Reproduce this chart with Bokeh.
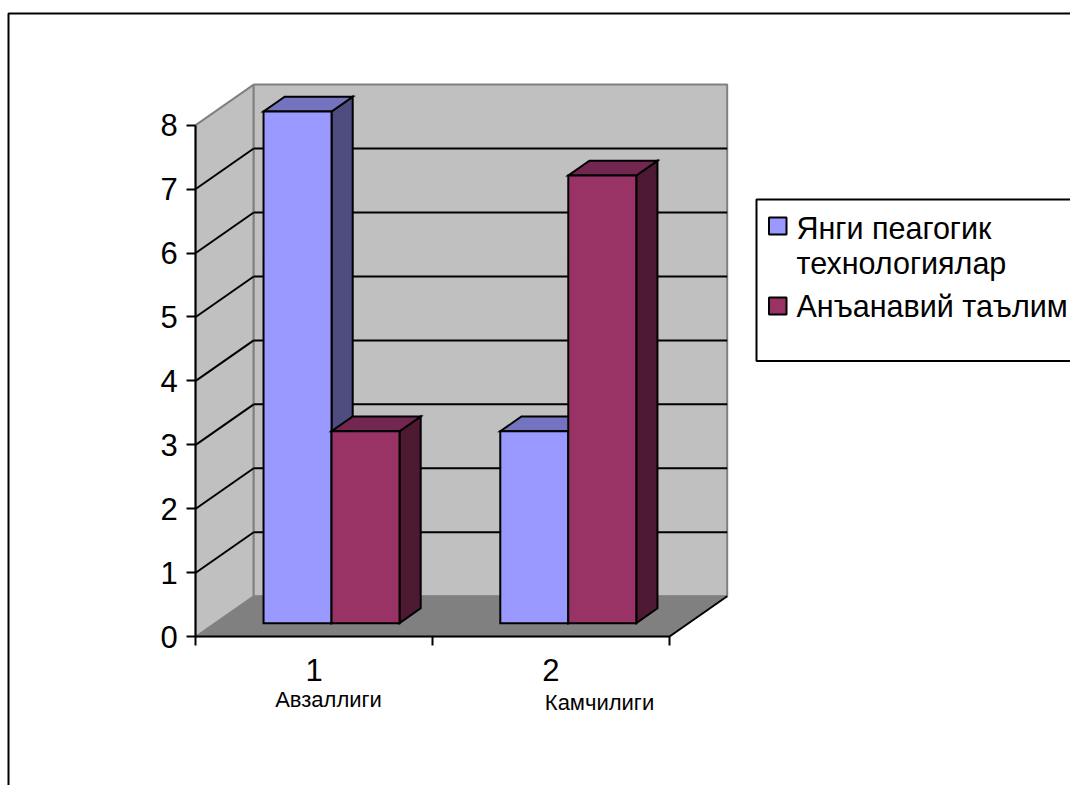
from bokeh.plotting import figure
from bokeh.models import LinearAxis, FixedTicker, Range1d
from bokeh.core.properties import value
from bokeh.embed import file_html
from bokeh.resources import INLINE

# ---- data ----
categories = [1, 2]
category_notes = ["Авзаллиги", "Камчилиги"]
series_names = ["Янги пеагогик\nтехнологиялар", "Анъанавий таълим"]
new_tech = [8, 3]
traditional = [3, 7]
y_ticks = [0, 1, 2, 3, 4, 5, 6, 7, 8]

# ---- page geometry (px in the page) ----
W, H = 1070, 785
X_ORIGIN, X_UNIT = 195.2, 236.75
Y_ORIGIN, Y_UNIT = 636.2, 63.95
fx = lambda px: (px - X_ORIGIN) / X_UNIT
fy = lambda py: (Y_ORIGIN - py) / Y_UNIT

# ---- pseudo 3D projection ----
DX, DY = 58 / X_UNIT, 40.5 / Y_UNIT
GAP, BAR = 48.4 / X_UNIT, 68 / X_UNIT
Z0, Z1 = 0.335, 0.70
YMAX = max(y_ticks)
NCAT = len(categories)

FONT = "Liberation Sans"
p = figure(width=W, height=H, output_backend="svg", toolbar_location=None,
           x_range=Range1d(fx(0), fx(W)),
           y_range=Range1d(fy(H), fy(0)),
           x_axis_type=None, y_axis_type=None, min_border=0)
p.outline_line_color = None
p.xgrid.visible = False
p.ygrid.visible = False
p.background_fill_color = "white"

# outer chart-area edge
p.line([fx(8), fx(8), fx(1072)], [fy(787), fy(13), fy(13)], line_color="black", line_width=2)

# walls and floor
GREY = "#C0C0C0"
p.patch([0, DX, DX, 0], [0, DY, YMAX + DY, YMAX], fill_color=GREY, line_color="#808080", line_width=2)
p.patch([DX, NCAT + DX, NCAT + DX, DX], [DY, DY, YMAX + DY, YMAX + DY],
        fill_color=GREY, line_color="#808080", line_width=2)
p.patch([0, NCAT, NCAT + DX, DX], [0, 0, DY, DY], fill_color="#808080", line_color="#808080", line_width=1)
p.line([NCAT, NCAT + DX], [0, DY], line_color="black", line_width=2)

# gridlines on both walls
levels = [t for t in y_ticks if 0 < t < YMAX]
p.segment([0] * len(levels), levels, [DX] * len(levels), [t + DY for t in levels], line_color="black", line_width=2)
p.segment([DX] * len(levels), [t + DY for t in levels], [NCAT + DX] * len(levels), [t + DY for t in levels],
          line_color="black", line_width=2)


def draw_series(values, idx, front, side, top):
    xl = [c - 1 + GAP + idx * BAR + Z0 * DX for c in categories]
    xr = [x + BAR for x in xl]
    by = [Z0 * DY] * len(values)
    ty = [v + Z0 * DY for v in values]
    d = (Z1 - Z0) * DX
    e = (Z1 - Z0) * DY
    style = dict(line_color="black", line_width=2, line_join="miter")
    p.patches([[r, r + d, r + d, r] for r in xr],
              [[b, b + e, t + e, t] for b, t in zip(by, ty)], fill_color=side, **style)
    p.patches([[l, r, r + d, l + d] for l, r in zip(xl, xr)],
              [[t, t, t + e, t + e] for t in ty], fill_color=top, **style)
    return p.quad(left=xl, right=xr, bottom=by, top=ty, fill_color=front, **style)


FRONT1, FRONT2 = "#9999FF", "#993366"
draw_series(new_tech, 0, FRONT1, "#4D4D80", "#7373BF")
draw_series(traditional, 1, FRONT2, "#4D1933", "#732650")

# axes
yax = LinearAxis(ticker=FixedTicker(ticks=y_ticks), fixed_location=0, bounds=(0, YMAX),
                 axis_line_color="black", axis_line_width=2,
                 major_tick_line_color="black", major_tick_line_width=2,
                 major_tick_out=9, major_tick_in=0, minor_tick_out=0, minor_tick_in=0,
                 major_label_text_font=FONT, major_label_text_font_size="31px",
                 major_label_text_color="black", major_label_standoff=9)
p.add_layout(yax, "left")

xax = LinearAxis(ticker=FixedTicker(ticks=[c - 0.5 for c in categories], minor_ticks=list(range(NCAT + 1))),
                 fixed_location=0, bounds=(0, NCAT),
                 axis_line_color="black", axis_line_width=2,
                 major_tick_out=0, major_tick_in=0,
                 minor_tick_line_color="black", minor_tick_line_width=2, minor_tick_out=9, minor_tick_in=0,
                 major_label_overrides={c - 0.5: str(c) for c in categories},
                 major_label_text_font=FONT, major_label_text_font_size="31px",
                 major_label_text_color="black", major_label_standoff=13)
p.add_layout(xax, "below")

# hand-written notes under the categories
p.text(x=[fx(328), fx(599)], y=[fy(699), fy(702)], text=category_notes,
       text_font=value(FONT), text_font_size="22px", text_align="center", text_baseline="alphabetic",
       text_color="black")

# legend, drawn in place so that its cut-off right edge and wrapped first entry match
p.quad(left=fx(756), right=fx(1074), top=fy(199), bottom=fy(360.5), fill_color="white",
       line_color="black", line_width=2)
p.quad(left=[fx(768.5), fx(768.5)], right=[fx(786), fx(786)], top=[fy(217), fy(297)], bottom=[fy(234), fy(314)],
       fill_color=[FRONT1, FRONT2], line_color="black", line_width=2)
legend_lines = series_names[0].split("\n") + [series_names[1]]
p.text(x=[fx(796)] * 3, y=[fy(227), fy(262), fy(305)], text=legend_lines,
       text_font=value(FONT), text_font_size="30.5px", text_align="left", text_baseline="alphabetic",
       text_color="black")

open("out.html", "w").write(file_html(p, INLINE))
